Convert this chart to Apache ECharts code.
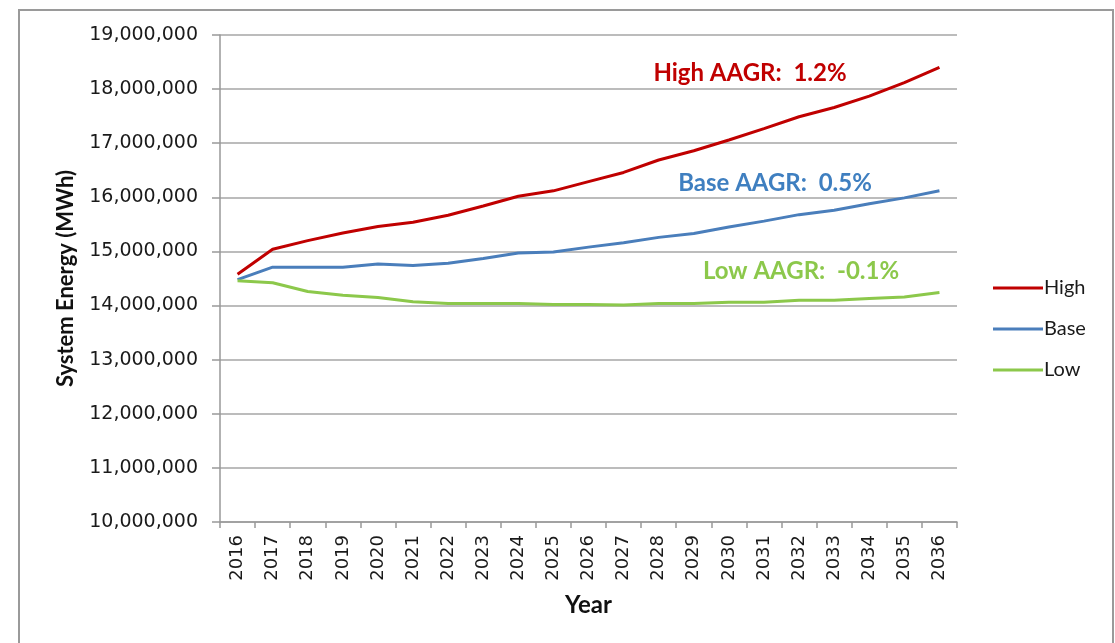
<!DOCTYPE html>
<html>
<head>
<meta charset="utf-8">
<script src="https://cdn.jsdelivr.net/npm/echarts@6/dist/echarts.min.js"></script>
<style>
  html, body { margin: 0; padding: 0; background: #ffffff; }
  #chart { width: 1115px; height: 643px; }
</style>
</head>
<body>
<div id="chart"></div>
<script>
// Forecast years on the category axis
const years = ['2016','2017','2018','2019','2020','2021','2022','2023','2024','2025','2026',
               '2027','2028','2029','2030','2031','2032','2033','2034','2035','2036'];

// System energy forecasts (MWh)
const highCase = [14580000, 15040000, 15200000, 15340000, 15460000, 15540000, 15670000, 15840000,
                  16020000, 16120000, 16290000, 16460000, 16690000, 16860000, 17060000, 17270000,
                  17490000, 17660000, 17870000, 18120000, 18400000];
const baseCase = [14480000, 14710000, 14710000, 14710000, 14770000, 14740000, 14780000, 14870000,
                  14970000, 14990000, 15080000, 15160000, 15260000, 15330000, 15450000, 15560000,
                  15680000, 15760000, 15880000, 15990000, 16120000];
const lowCase  = [14460000, 14420000, 14260000, 14190000, 14150000, 14070000, 14040000, 14040000,
                  14040000, 14020000, 14020000, 14010000, 14040000, 14040000, 14060000, 14060000,
                  14100000, 14100000, 14130000, 14160000, 14240000];

const seriesNames = ['High', 'Base', 'Low'];
const growthNotes = ['High AAGR:  1.2%', 'Base AAGR:  0.5%', 'Low AAGR:  -0.1%'];

const colors = ['#C00000', '#4A7EBB', '#8CC84B'];
const labelFont = 'Lato, "Noto Sans", sans-serif';
const tickFont = '"DejaVu Sans", Verdana, sans-serif';

const chart = echarts.init(document.getElementById('chart'), null, { renderer: 'canvas' });

function lineSeries(name, data, color) {
  return {
    name: name,
    type: 'line',
    data: data,
    symbol: 'none',
    smooth: false,
    lineStyle: { color: color, width: 3 },
    itemStyle: { color: color },
    emphasis: { disabled: true }
  };
}

chart.setOption({
  animation: false,
  backgroundColor: '#ffffff',
  color: colors,
  grid: { left: 220, right: 158, top: 35, bottom: 121 },
  legend: {
    orient: 'vertical',
    left: 988,
    top: 273,
    icon: 'rect',
    itemWidth: 50,
    itemHeight: 3,
    itemGap: 21,
    data: seriesNames,
    textStyle: { fontFamily: labelFont, fontSize: 20, color: '#1a1a1a', padding: [0, 0, 0, -4], lineHeight: 20 }
  },
  xAxis: {
    type: 'category',
    data: years,
    boundaryGap: true,
    name: 'Year',
    nameLocation: 'middle',
    nameGap: 71,
    nameTextStyle: { fontFamily: labelFont, fontWeight: 'bold', fontSize: 24, color: '#111' },
    axisLine: { lineStyle: { color: '#999', width: 1.5 } },
    axisTick: { show: true, length: 6, alignWithLabel: false, lineStyle: { color: '#999', width: 1.5 } },
    axisLabel: { rotate: 90, margin: 13, fontFamily: tickFont, fontSize: 18, color: '#1a1a1a', interval: 0 },
    splitLine: { show: false }
  },
  yAxis: {
    type: 'value',
    min: 10000000,
    max: 19000000,
    interval: 1000000,
    name: 'System Energy (MWh)',
    nameLocation: 'middle',
    nameGap: 143,
    nameRotate: 90,
    nameTextStyle: { fontFamily: labelFont, fontWeight: 'bold', fontSize: 22, color: '#111' },
    axisLine: { show: true, lineStyle: { color: '#999', width: 1.5 } },
    axisTick: { show: true, length: 8, inside: false, lineStyle: { color: '#999', width: 1.5 } },
    axisLabel: {
      margin: 22,
      fontFamily: tickFont,
      fontSize: 19,
      color: '#1a1a1a',
      formatter: function (v) { return v.toLocaleString('en-US'); }
    },
    splitLine: { show: true, lineStyle: { color: '#A6A6A6', width: 1.5 } }
  },
  series: [
    lineSeries(seriesNames[0], highCase, colors[0]),
    lineSeries(seriesNames[1], baseCase, colors[1]),
    lineSeries(seriesNames[2], lowCase, colors[2])
  ],
  graphic: [
    {
      type: 'rect',
      silent: true,
      shape: { x: 19, y: 10, width: 1094, height: 700 },
      style: { fill: 'none', stroke: '#9a9a9a', lineWidth: 2 }
    },
    {
      type: 'text', x: 750, y: 73, silent: true,
      style: { text: growthNotes[0], fill: colors[0], font: 'bold 24px ' + labelFont, align: 'center', verticalAlign: 'middle' }
    },
    {
      type: 'text', x: 775, y: 183, silent: true,
      style: { text: growthNotes[1], fill: '#3F7FC0', font: 'bold 24px ' + labelFont, align: 'center', verticalAlign: 'middle' }
    },
    {
      type: 'text', x: 801, y: 271, silent: true,
      style: { text: growthNotes[2], fill: '#8CC84B', font: 'bold 24px ' + labelFont, align: 'center', verticalAlign: 'middle' }
    }
  ]
});
</script>
</body>
</html>
